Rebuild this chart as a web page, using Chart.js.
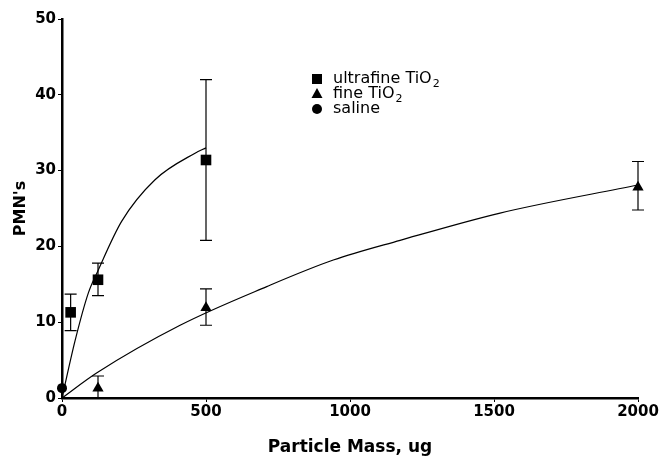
<!DOCTYPE html>
<html><head><meta charset="utf-8">
<script src="https://cdn.jsdelivr.net/npm/chart.js@4.4.0/dist/chart.umd.min.js"></script>
<style>html,body{margin:0;padding:0;background:#fff;}#wrap{width:660px;height:462px;position:relative;}</style>
</head><body><div id="wrap"><canvas id="c" width="660" height="462"></canvas></div>
<script>
const ultrafineMass = [30, 125, 500];
const ultrafinePMN = [11.3, 15.6, 31.4];
const ultrafineLow = [8.9, 13.5, 20.8];
const ultrafineHigh = [13.7, 17.8, 42.0];
const fineMass = [125, 500, 2000];
const finePMN = [1.3, 11.9, 27.8];
const fineLow = [0, 9.6, 24.8];
const fineHigh = [2.9, 14.4, 31.2];
const salineMass = [0];
const salinePMN = [1.3];
const ultrafineFitMass = [0, 45, 91, 125, 207, 323, 462, 500];
const ultrafineFitPMN = [0, 7.5, 13.8, 16.8, 23.3, 28.8, 32.3, 33.0];
const fineFitMass = [0, 120, 410, 711, 942, 1174, 1521, 2000];
const fineFitPMN = [0, 3.3, 9.6, 14.7, 18.2, 20.8, 24.4, 28.1];
const xTicks = [0, 500, 1000, 1500, 2000];
const yTicks = [0, 10, 20, 30, 40, 50];
const legendLabels = [['ultrafine TiO', '2'], ['fine TiO', '2'], ['saline', '']];
const legendStyles = ['rect', 'triangle', 'circle'];

const pts = (xs, ys) => xs.map((x, i) => ({x: x, y: ys[i]}));

const errorGroups = [
  {x: ultrafineMass, low: ultrafineLow, high: ultrafineHigh},
  {x: fineMass, low: fineLow, high: fineHigh}
];

const errorBarPlugin = {
  id: 'errorBars',
  beforeDatasetsDraw(chart) {
    const ctx = chart.ctx, xs = chart.scales.x, ys = chart.scales.y;
    ctx.save();
    ctx.strokeStyle = '#000';
    ctx.lineWidth = 1.2;
    errorGroups.forEach(g => {
      g.x.forEach((xv, i) => {
        const px = xs.getPixelForValue(xv);
        const pl = ys.getPixelForValue(g.low[i]);
        const ph = ys.getPixelForValue(g.high[i]);
        ctx.beginPath();
        ctx.moveTo(px, pl); ctx.lineTo(px, ph);
        ctx.moveTo(px - 6, pl); ctx.lineTo(px + 6, pl);
        ctx.moveTo(px - 6, ph); ctx.lineTo(px + 6, ph);
        ctx.stroke();
      });
    });
    ctx.restore();
  }
};

const legendPlugin = {
  id: 'customLegend',
  afterDraw(chart) {
    const ctx = chart.ctx;
    ctx.save();
    ctx.fillStyle = '#000';
    const mx = 317, tx = 333, y0 = 79, dy = 15;
    legendLabels.forEach((lab, i) => {
      const y = y0 + i * dy;
      const st = legendStyles[i];
      ctx.beginPath();
      if (st === 'rect') { ctx.rect(mx - 5, y - 5, 10, 10); }
      else if (st === 'triangle') { ctx.moveTo(mx, y - 6); ctx.lineTo(mx + 5.5, y + 4); ctx.lineTo(mx - 5.5, y + 4); ctx.closePath(); }
      else { ctx.arc(mx, y, 5, 0, Math.PI * 2); }
      ctx.fill();
      ctx.font = '16px "DejaVu Sans"';
      ctx.textBaseline = 'middle';
      ctx.textAlign = 'left';
      ctx.fillText(lab[0], tx, y);
      if (lab[1]) {
        const w = ctx.measureText(lab[0]).width;
        ctx.font = '11px "DejaVu Sans"';
        ctx.fillText(lab[1], tx + w + 1, y + 5);
      }
    });
    ctx.restore();
  }
};

const tickFont = {family: '"DejaVu Sans"', size: 15, weight: 'bold'};
const titleFont = {family: '"DejaVu Sans"', size: 17, weight: 'bold'};

new Chart(document.getElementById('c'), {
  type: 'scatter',
  data: {
    datasets: [
      {label: 'ultrafine fit', data: pts(ultrafineFitMass, ultrafineFitPMN), showLine: true, pointRadius: 0,
       borderColor: '#000', borderWidth: 1.2, cubicInterpolationMode: 'monotone', clip: false},
      {label: 'fine fit', data: pts(fineFitMass, fineFitPMN), showLine: true, pointRadius: 0,
       borderColor: '#000', borderWidth: 1.2, cubicInterpolationMode: 'monotone', clip: false},
      {label: 'ultrafine TiO2', data: pts(ultrafineMass, ultrafinePMN), pointStyle: 'rect', pointRadius: 7.5,
       backgroundColor: '#000', borderColor: '#000', borderWidth: 0, clip: false},
      {label: 'fine TiO2', data: pts(fineMass, finePMN), pointStyle: 'triangle', pointRadius: 6.5,
       backgroundColor: '#000', borderColor: '#000', borderWidth: 0, clip: false},
      {label: 'saline', data: pts(salineMass, salinePMN), pointStyle: 'circle', pointRadius: 5,
       backgroundColor: '#000', borderColor: '#000', borderWidth: 0, clip: false}
    ]
  },
  options: {
    responsive: false,
    animation: false,
    devicePixelRatio: 1,
    layout: {padding: {top: 19, right: 22, left: 0, bottom: 0}},
    plugins: {legend: {display: false}, tooltip: {enabled: false}},
    scales: {
      x: {
        type: 'linear', min: 0, max: 2000,
        afterBuildTicks: s => { s.ticks = xTicks.map(v => ({value: v})); },
        afterFit: s => { s.height = 64; },
        grid: {display: true, drawOnChartArea: false, drawTicks: true, tickLength: 4, tickColor: '#000', tickWidth: 1},
        border: {display: true, color: '#000', width: 2.5},
        ticks: {color: '#000', font: tickFont, padding: 1, maxRotation: 0, callback: v => String(v)},
        title: {display: true, text: 'Particle Mass, ug', color: '#000', font: titleFont, padding: {top: 0, bottom: 4}}
      },
      y: {
        type: 'linear', min: 0, max: 50,
        afterBuildTicks: s => { s.ticks = yTicks.map(v => ({value: v})); },
        afterFit: s => { s.width = 62; },
        grid: {display: true, drawOnChartArea: false, drawTicks: true, tickLength: 4, tickColor: '#000', tickWidth: 1},
        border: {display: true, color: '#000', width: 2.5},
        ticks: {color: '#000', font: tickFont, padding: 2, callback: v => String(v)},
        title: {display: true, text: "PMN's", color: '#000', font: {family: '"DejaVu Sans"', size: 16, weight: 'bold'}, padding: {top: 11, bottom: 0}}
      }
    }
  },
  plugins: [errorBarPlugin, legendPlugin]
});
</script></body></html>
